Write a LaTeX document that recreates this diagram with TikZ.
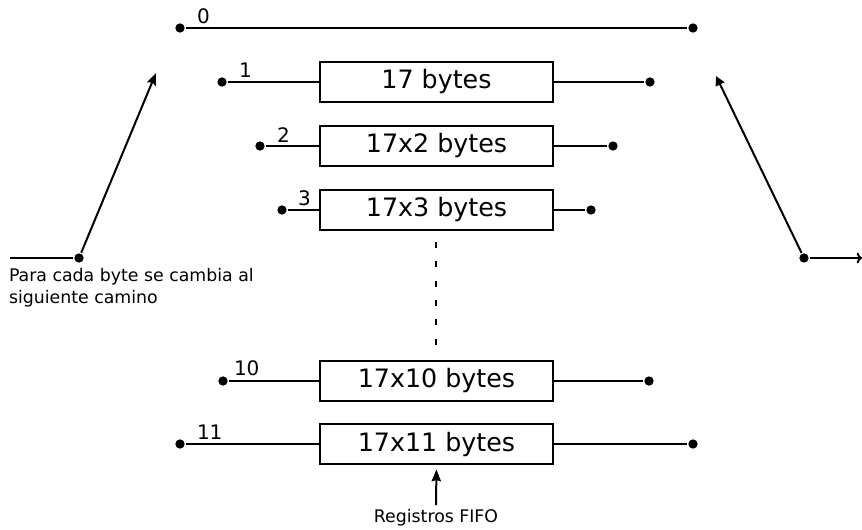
\documentclass[tikz,border=0pt]{standalone}
\usepackage{fontspec}
\setmainfont{DejaVu Sans}
\usetikzlibrary{arrows.meta}

\begin{document}
\begin{tikzpicture}[x=0.75pt,y=-0.75pt,line width=1.5pt,
  fifo/.style={rectangle,draw=black,minimum width=174.5pt,minimum height=30.5pt,inner sep=0pt,font=\fontsize{19}{22}\selectfont},
  tap/.style={circle,fill=black,inner sep=0pt,minimum size=7pt},
  num/.style={anchor=base west,inner sep=0pt,font=\fontsize{15}{18}\selectfont},
  note/.style={inner sep=0pt,font=\fontsize{13}{16.5}\selectfont}]
\useasboundingbox (0,0) rectangle (862,529);

% camino 0 (directo)
\node(I0) at (180,28) [tap]{};
\node(O0) at (693,28) [tap]{};
\node(N0) at (196,23) [num]{0};
\draw (I0) -- (O0);

% caminos con registros
\node(F1) at (436.5,82) [fifo]{17 bytes};
\node(I1) at (222,82) [tap]{};
\node(O1) at (650,82) [tap]{};
\node(N1) at (238,77) [num]{1};

\node(F2) at (436.5,146) [fifo]{17x2 bytes};
\node(I2) at (260,146) [tap]{};
\node(O2) at (613,146) [tap]{};
\node(N2) at (276,142) [num]{2};

\node(F3) at (436.5,210) [fifo]{17x3 bytes};
\node(I3) at (282,210) [tap]{};
\node(O3) at (591,210) [tap]{};
\node(N3) at (297,205) [num]{3};

\node(F10) at (436.5,381) [fifo]{17x10 bytes};
\node(I10) at (223,381) [tap]{};
\node(O10) at (649,381) [tap]{};
\node(N10) at (233,375) [num]{10};

\node(F11) at (436.5,444) [fifo]{17x11 bytes};
\node(I11) at (180,444) [tap]{};
\node(O11) at (693,444) [tap]{};
\node(N11) at (196,439) [num]{11};

\draw (I1) -- (F1) -- (O1);
\draw (I2) -- (F2) -- (O2);
\draw (I3) -- (F3) -- (O3);
\draw (I10) -- (F10) -- (O10);
\draw (I11) -- (F11) -- (O11);

% puntos suspensivos
\draw[line width=2.2pt,dash pattern=on 4.5pt off 10pt] (436,242) -- (436,348);

% conmutador de entrada
\coordinate(Ein) at (10,258);
\coordinate(Sin) at (156,73);
\node(CI) at (79,258) [tap]{};
\draw (Ein) -- (CI);
\draw[-{Stealth[length=9pt,width=7pt,inset=1.5pt]}] (CI) -- (Sin);
\node(T) at (8,267) [note,anchor=north west,align=left]{Para cada byte se cambia al\\siguiente camino};

% conmutador de salida
\coordinate(Eout) at (862,258);
\coordinate(Sout) at (716,76);
\node(CO) at (804,258) [tap]{};
\draw[-{To[length=4pt,width=8pt]}] (CO) -- (Eout);
\draw[-{Triangle[length=7pt,width=7pt]}] (CO) -- (Sout);

% registros
\node(R) at (436,522) [note,anchor=base]{Registros FIFO};
\draw[-{Stealth[length=9pt,width=7pt,inset=1pt]},shorten >=3pt] (436,505) -- (F11.south);
\end{tikzpicture}
\end{document}
